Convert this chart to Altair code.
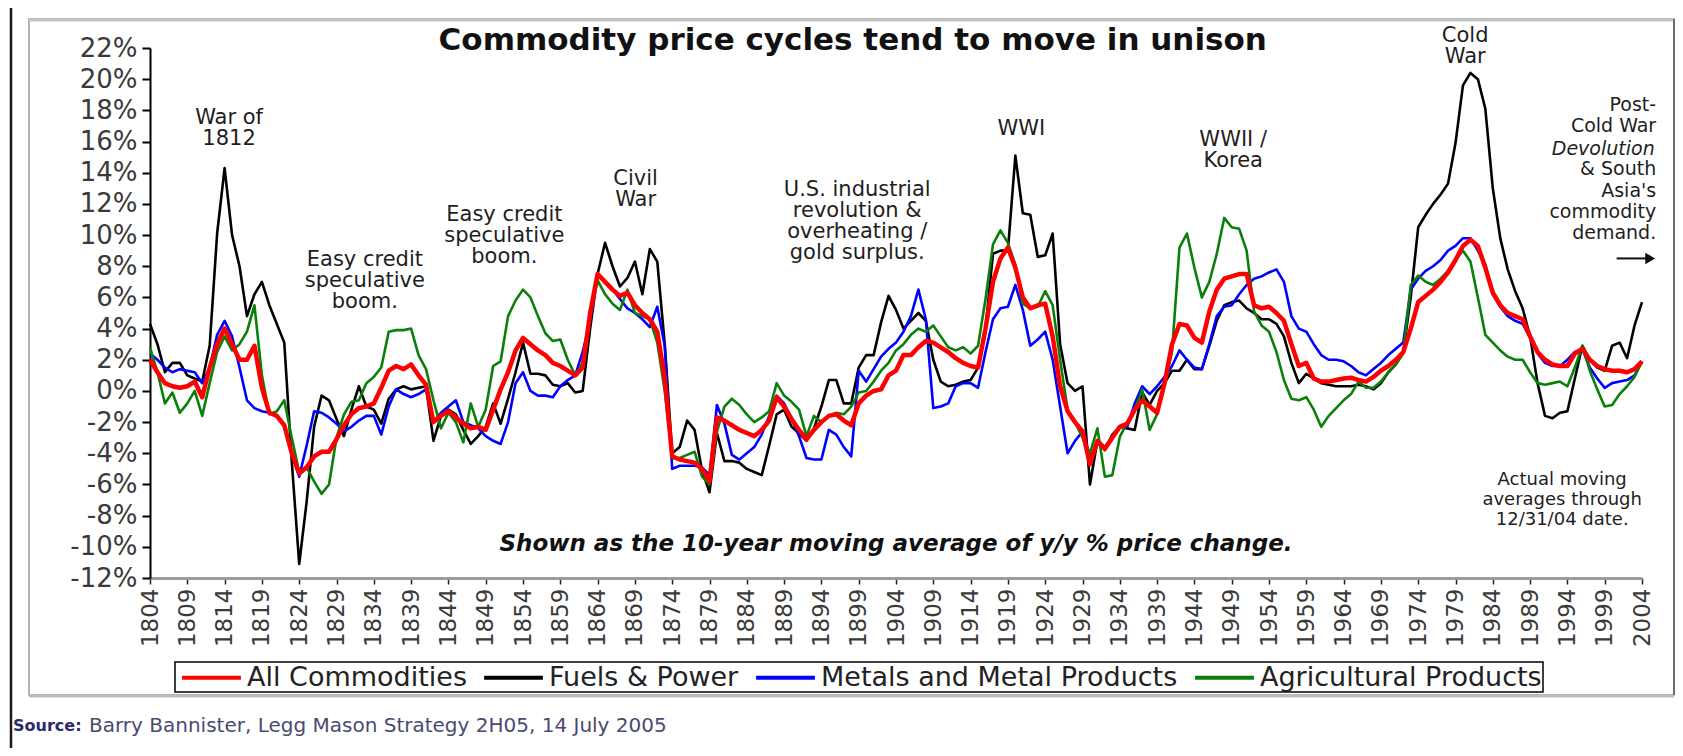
import altair as alt
import pandas as pd

YEARS = list(range(1804, 2005))

FUELS_POWER = [
    4.3, 3.0, 1.2, 1.8, 1.8, 1.0, 0.8, 0.6, 2.9, 10.1,
    14.3, 10.0, 8.0, 4.8, 6.2, 7.0, 5.5, 4.3, 3.1, -4.5,
    -11.1, -7.1, -2.3, -0.3, -0.6, -1.8, -2.9, -1.2, 0.3, -1.0,
    -1.2, -2.1, -0.5, 0.1, 0.3, 0.1, 0.2, 0.3, -3.2, -1.6,
    -1.2, -1.5, -2.5, -3.4, -2.9, -2.3, -0.8, -2.1, -0.5, 1.2,
    3.1, 1.1, 1.1, 1.0, 0.4, 0.3, 0.5, -0.1, 0.0, 4.0,
    7.5, 9.5, 8.0, 6.7, 7.25, 8.3, 6.2, 9.1, 8.3, 3.0,
    -4.0, -3.6, -1.9, -2.5, -5.1, -6.5, -2.7, -4.5, -4.5, -4.6,
    -5.0, -5.2, -5.4, -3.5, -1.5, -1.2, -2.3, -2.7, -3.2, -2.4,
    -1.0, 0.7, 0.7, -0.8, -0.8, 1.5, 2.3, 2.3, 4.4, 6.1,
    5.2, 4.0, 4.5, 5.0, 4.5, 2.0, 0.6, 0.3, 0.4, 0.6,
    0.7, 1.5, 4.0, 8.8, 9.0, 9.0, 15.1, 11.4, 11.3, 8.6,
    8.7, 10.1, 3.0, 0.5, 0.0, 0.3, -6.0, -3.2, -3.8, -2.8,
    -2.3, -2.4, -2.5, -0.1, -0.9, 0.0, 0.5, 1.3, 1.3, 2.0,
    1.4, 1.4, 2.9, 4.5, 5.5, 5.7, 5.8, 5.3, 5.0, 4.6,
    4.6, 4.3, 3.5, 1.8, 0.5, 1.1, 0.8, 0.5, 0.4, 0.3,
    0.3, 0.3, 0.4, 0.3, 0.1, 0.5, 1.2, 1.7, 2.5, 6.0,
    10.5, 11.3, 12.0, 12.6, 13.3, 15.9, 19.6, 20.4, 20.0, 18.1,
    13.0, 9.8, 7.8, 6.4, 5.3, 3.5, 0.5, -1.6, -1.75, -1.4,
    -1.3, 0.8, 2.9, 2.0, 1.5, 1.3, 2.9, 3.1, 2.1, 4.2,
    5.7,
]

ALL_COMMODITIES = [
    2.0, 1.2, 0.5, 0.3, 0.2, 0.3, 0.6, -0.4, 1.5, 3.0,
    4.0, 3.0, 2.0, 2.0, 2.9, 0.2, -1.4, -1.6, -2.2, -4.0,
    -5.3, -4.9, -4.2, -3.9, -3.9, -3.1, -2.2, -1.5, -1.1, -1.0,
    -0.8, 0.2, 1.3, 1.6, 1.4, 1.7, 1.0, 0.4, -2.0, -1.6,
    -1.3, -1.7, -2.1, -2.4, -2.3, -2.5, -1.2, 0.1, 1.2, 2.6,
    3.4, 3.0, 2.6, 2.3, 1.8, 1.6, 1.3, 1.0, 1.5, 5.0,
    7.5, 7.0, 6.5, 6.1, 6.3, 5.5, 5.0, 4.6, 3.8, 0.8,
    -4.2, -4.4, -4.5, -4.6, -5.0, -5.8, -1.7, -1.9, -2.2, -2.5,
    -2.7, -2.9, -2.5, -1.9, -0.4, -1.0, -1.8, -2.5, -3.1, -2.5,
    -2.0, -1.6, -1.5, -1.9, -2.2, -0.8, -0.3, 0.0, 0.1, 1.0,
    1.3, 2.3, 2.3, 2.8, 3.2, 3.1, 2.8, 2.5, 2.1, 1.8,
    1.6, 1.5, 4.0, 7.0, 8.5, 9.2, 7.9, 6.0, 5.3, 5.5,
    5.6, 3.5, 0.3, -1.3, -2.0, -2.6, -4.7, -3.2, -3.7, -3.0,
    -2.3, -2.1, -1.2, -0.6, -1.0, -1.4, 0.5, 3.0, 4.3, 4.2,
    3.4, 3.1, 5.1, 6.5, 7.2, 7.35, 7.5, 7.5, 5.5, 5.3,
    5.4, 5.0, 4.5, 3.0, 1.6, 1.8, 0.8, 0.6, 0.6, 0.7,
    0.8, 0.85, 0.7, 0.6, 0.9, 1.3, 1.6, 2.0, 2.5, 4.0,
    5.7, 6.1, 6.5, 7.0, 7.6, 8.4, 9.3, 9.7, 9.3, 7.9,
    6.3, 5.5, 5.0, 4.8, 4.6, 3.5, 2.5, 2.0, 1.7, 1.6,
    1.6, 2.4, 2.7, 2.0, 1.6, 1.4, 1.3, 1.3, 1.2, 1.4,
    1.9,
]

METALS = [
    2.4, 2.0, 1.5, 1.2, 1.4, 1.3, 1.2, 0.5, 1.5, 3.6,
    4.5, 3.5, 1.5, -0.6, -1.1, -1.3, -1.4, -1.6, -2.2, -4.0,
    -5.5, -3.5, -1.3, -1.4, -1.7, -2.1, -2.6, -2.3, -1.9, -1.6,
    -1.6, -2.8, -1.0, 0.1, -0.2, -0.4, -0.2, 0.1, -2.0, -1.4,
    -1.0, -0.6, -2.0, -2.2, -2.4, -2.9, -3.2, -3.4, -2.0, 0.5,
    1.2, 0.0, -0.3, -0.3, -0.4, 0.3, 0.7, 1.0, 2.5, 4.5,
    7.5, 7.0, 6.5, 5.9, 5.3, 5.0, 4.6, 4.1, 5.4, 2.9,
    -5.0, -4.8, -4.8, -4.8, -4.9, -5.4, -0.9, -2.1, -4.1, -4.4,
    -4.0, -3.6, -2.8, -1.6, -0.3, -0.8, -1.8, -2.9, -4.3, -4.4,
    -4.4, -2.5, -2.8, -3.6, -4.2, 1.3, 0.6, 1.4, 2.2, 2.7,
    3.1, 3.8, 4.8, 6.5, 4.6, -1.1, -1.0, -0.8, 0.3, 0.5,
    0.5, 0.2, 2.5, 4.6, 5.3, 5.4, 6.8, 5.2, 2.9, 3.3,
    3.8, 2.0, -1.0, -4.0, -3.2, -2.6, -4.2, -3.4, -3.6, -3.0,
    -2.3, -2.3, -0.8, 0.3, -0.2, 0.3, 0.9, 1.6, 2.6, 2.0,
    1.5, 1.4, 3.0, 4.8, 5.4, 5.5, 6.2, 6.8, 7.2, 7.35,
    7.6, 7.8, 7.0, 4.8, 4.0, 3.8, 3.0, 2.3, 2.0, 2.0,
    1.9, 1.6, 1.2, 1.0, 1.4, 1.8, 2.3, 2.7, 3.1, 6.5,
    7.2, 7.7, 8.0, 8.4, 9.0, 9.3, 9.8, 9.8, 9.0, 8.1,
    6.2, 5.4, 4.8, 4.5, 4.3, 3.4, 2.4, 1.8, 1.6, 1.6,
    2.0, 2.5, 2.7, 1.5, 0.8, 0.2, 0.5, 0.6, 0.7, 1.0,
    1.9,
]

AGRICULTURAL = [
    2.8, 1.2, -0.8, -0.1, -1.4, -0.8, 0.0, -1.6, 0.5, 2.5,
    3.5, 2.6, 3.0, 3.8, 5.5, 1.0, -1.5, -1.3, -0.6, -3.0,
    -5.2, -4.9, -5.8, -6.6, -6.0, -3.0, -1.5, -0.7, -0.6, 0.5,
    0.9, 1.5, 3.8, 3.9, 3.9, 4.0, 2.3, 1.4, -0.6, -2.4,
    -1.4, -2.0, -3.3, -0.8, -2.3, -1.2, 1.6, 1.9, 4.8, 5.8,
    6.5, 6.0, 4.8, 3.7, 3.2, 3.3, 2.0, 1.0, 1.8, 5.0,
    7.1, 6.2, 5.6, 5.2, 6.5, 5.0, 4.8, 4.6, 3.1, 0.0,
    -4.3, -4.3, -4.1, -3.9, -5.5, -6.0, -2.6, -1.0, -0.5, -0.9,
    -1.5, -2.0, -1.7, -1.3, 0.5, -0.3, -0.7, -1.2, -2.9, -1.6,
    -2.0, -1.6, -1.4, -1.5, -1.0, -0.1, 0.0, 0.6, 1.3, 1.8,
    2.6, 3.0, 3.6, 4.0, 3.8, 4.2, 3.5, 2.8, 2.6, 2.8,
    2.4, 2.9, 5.9, 9.4, 10.3, 9.5, 8.1, 5.6, 5.3, 5.4,
    6.4, 5.5, 2.0, -1.2, -2.0, -3.0, -4.0, -2.4, -5.5, -5.4,
    -2.95, -2.0, -1.3, 0.1, -2.5, -1.5, 0.5, 2.5, 9.2, 10.1,
    7.9, 6.0, 7.0, 8.8, 11.1, 10.5, 10.4, 9.0, 5.1, 4.2,
    3.8, 2.5, 0.7, -0.5, -0.6, -0.4, -1.2, -2.3, -1.6, -1.1,
    -0.6, -0.2, 0.6, 0.2, 0.2, 0.6, 1.2, 1.7, 2.4, 6.8,
    7.4, 7.0, 6.8, 7.2, 7.7, 8.4, 9.0, 8.3, 6.0, 3.6,
    3.1, 2.6, 2.2, 2.0, 2.0, 1.2, 0.5, 0.4, 0.5, 0.6,
    0.3, 1.5, 2.9, 1.3, 0.1, -1.0, -0.9, -0.2, 0.3, 0.9,
    1.9,
]

SERIES_NAMES = ["All Commodities", "Fuels & Power",
                "Metals and Metal Products", "Agricultural Products"]
SERIES_COLORS = ["#ff0000", "#000000", "#0000ff", "#0a800a"]

X_TICKS = list(range(1804, 2005, 5))
Y_TICKS = list(range(-12, 23, 2))

TITLE = "Commodity price cycles tend to move in unison"
NOTE = "Shown as the 10-year moving average of y/y % price change."
SOURCE_LABEL = "Source:"
SOURCE_TEXT = "Barry Bannister, Legg Mason Strategy 2H05, 14 July 2005"

ANN_TEXT = ["War of\n1812", "Easy credit\nspeculative\nboom.",
            "Easy credit\nspeculative\nboom.", "Civil\nWar",
            "U.S. industrial\nrevolution &\noverheating /\ngold surplus.",
            "WWI", "WWII /\nKorea", "Cold\nWar"]
ANN_YEAR = [1814.6, 1832.8, 1851.5, 1869.1, 1898.8, 1920.8, 1949.2, 1980.3]
ANN_PCT = [18.2, 9.1, 12.0, 14.3, 13.6, 17.5, 16.8, 23.5]

RIGHT_TEXT = ["Post-\nCold War", "& South\nAsia's\ncommodity\ndemand."]
RIGHT_YEAR = [2005.9, 2005.9]
RIGHT_PCT = [18.95, 14.80]
ITALIC_TEXT = ["Devolution"]
ITALIC_YEAR = [2005.7]
ITALIC_PCT = [16.12]

SMALL_TEXT = ["Actual moving\naverages through\n12/31/04 date."]
SMALL_YEAR = [1993.3]
SMALL_PCT = [-5.15]

ARROW_START = [2000.6]
ARROW_END = [2004.6]
ARROW_HEAD = [2005.1]
ARROW_PCT = [8.5]

for s in (FUELS_POWER, ALL_COMMODITIES, METALS, AGRICULTURAL):
    assert len(s) == len(YEARS), len(s)

df = pd.DataFrame({
    "year": YEARS * 4,
    "pct": ALL_COMMODITIES + FUELS_POWER + METALS + AGRICULTURAL,
    "series": sum([[n] * len(YEARS) for n in SERIES_NAMES], []),
})

FONT = "DejaVu Sans"
x_scale = alt.Scale(domain=[1804, 2004], nice=False, zero=False)
y_scale = alt.Scale(domain=[-12, 22], nice=False, zero=False)
x_axis = alt.Axis(values=X_TICKS, format="d", labelAngle=-90, labelFont=FONT,
                  labelFontSize=23, labelColor="#3a3a3a", labelFlush=False,
                  labelOverlap=False, labelPadding=4, tickSize=6, tickWidth=1.5,
                  tickColor="#222222", domainColor="#9c9c9c", domainWidth=3,
                  grid=False, title=None)
y_axis = alt.Axis(values=Y_TICKS, labelExpr="datum.value + '%'", labelFont=FONT,
                  labelFontSize=26, labelColor="#3a3a3a", labelPadding=5,
                  tickSize=8, tickWidth=2, tickColor="#000000",
                  domainColor="#000000", domainWidth=2, grid=False, title=None)


def X(field):
    return alt.X(field, scale=x_scale, axis=x_axis)


def Y(field):
    return alt.Y(field, scale=y_scale, axis=y_axis)


color_enc = alt.Color(
    "series:N",
    scale=alt.Scale(domain=SERIES_NAMES, range=SERIES_COLORS),
    legend=alt.Legend(title=None, orient="none", legendX=25, legendY=614,
                      direction="horizontal", columns=4,
                      symbolType="M-2.4,0L2.4,0", symbolSize=600,
                      symbolStrokeWidth=4, symbolOffset=21, labelOffset=21,
                      labelFont=FONT, labelFontSize=27, labelColor="#222222",
                      labelLimit=600, strokeColor="#000000", padding=1,
                      columnPadding=9),
)

one = alt.Data(values=[{}])

frame = alt.Chart(one).mark_rect(fillOpacity=0, stroke="#b3b3b3", strokeWidth=2).encode(
    x=alt.value(-121), x2=alt.value(1524), y=alt.value(-29), y2=alt.value(647))
frame_top = alt.Chart(one).mark_rule(color="#c4c4c4", strokeWidth=3).encode(
    x=alt.value(-121), x2=alt.value(1524), y=alt.value(-28))
frame_bottom = alt.Chart(one).mark_rule(color="#bdbdbd", strokeWidth=3).encode(
    x=alt.value(-121), x2=alt.value(1524), y=alt.value(648))
frame_right = alt.Chart(one).mark_rule(color="#555555", strokeWidth=1.5).encode(
    x=alt.value(1524), y=alt.value(-29), y2=alt.value(647))
left_bar = alt.Chart(one).mark_rule(color="#1a1a1a", strokeWidth=2.5).encode(
    x=alt.value(-139), y=alt.value(-48), y2=alt.value(720))

line_layers = []
for name, w in [("Fuels & Power", 2.6), ("Metals and Metal Products", 2.6),
                ("Agricultural Products", 2.6), ("All Commodities", 4.5)]:
    line_layers.append(
        alt.Chart(df).transform_filter(alt.datum.series == name)
        .mark_line(strokeWidth=w, strokeJoin="round")
        .encode(x=X("year:Q"), y=Y("pct:Q"), color=color_enc)
    )

ann_df = pd.DataFrame({"label": ANN_TEXT, "year": ANN_YEAR, "pct": ANN_PCT})
ann = alt.Chart(ann_df).mark_text(font=FONT, fontSize=21, color="#1e1e1e",
                                  align="center", baseline="top", lineBreak="\n",
                                  lineHeight=21).encode(
    x=X("year:Q"), y=Y("pct:Q"), text="label:N")

right_df = pd.DataFrame({"label": RIGHT_TEXT, "year": RIGHT_YEAR, "pct": RIGHT_PCT})
right = alt.Chart(right_df).mark_text(font=FONT, fontSize=19, color="#1e1e1e",
                                      align="right", baseline="top", lineBreak="\n",
                                      lineHeight=21.3).encode(
    x=X("year:Q"), y=Y("pct:Q"), text="label:N")

ital_df = pd.DataFrame({"label": ITALIC_TEXT, "year": ITALIC_YEAR, "pct": ITALIC_PCT})
ital = alt.Chart(ital_df).mark_text(font=FONT, fontSize=19, fontStyle="italic",
                                    color="#1e1e1e", align="right",
                                    baseline="top").encode(
    x=X("year:Q"), y=Y("pct:Q"), text="label:N")

small_df = pd.DataFrame({"label": SMALL_TEXT, "year": SMALL_YEAR, "pct": SMALL_PCT})
small = alt.Chart(small_df).mark_text(font=FONT, fontSize=18, color="#1e1e1e",
                                      align="center", baseline="top", lineBreak="\n",
                                      lineHeight=20).encode(
    x=X("year:Q"), y=Y("pct:Q"), text="label:N")

arrow_df = pd.DataFrame({"x0": ARROW_START, "x1": ARROW_END, "xh": ARROW_HEAD,
                         "pct": ARROW_PCT})
arrow_line = alt.Chart(arrow_df).mark_rule(color="#111111", strokeWidth=2).encode(
    x=X("x0:Q"), x2="x1:Q", y=Y("pct:Q"))
arrow_head = alt.Chart(arrow_df).mark_point(shape="triangle-right", filled=True,
                                            size=130, color="#111111", opacity=1).encode(
    x=X("xh:Q"), y=Y("pct:Q"))

title_df = pd.DataFrame({"label": [TITLE], "year": [1898.2], "pct": [22.45]})
title = alt.Chart(title_df).mark_text(font=FONT, fontSize=31, fontWeight="bold",
                                      color="#111111", align="center",
                                      baseline="middle").encode(
    x=X("year:Q"), y=Y("pct:Q"), text="label:N")

note_df = pd.DataFrame({"label": [NOTE], "year": [1904.0], "pct": [-9.82]})
note = alt.Chart(note_df).mark_text(font=FONT, fontSize=23, fontWeight="bold",
                                    fontStyle="italic", color="#111111",
                                    align="center", baseline="middle").encode(
    x=X("year:Q"), y=Y("pct:Q"), text="label:N")

src1 = alt.Chart(alt.Data(values=[{"t": SOURCE_LABEL}])).mark_text(
    font=FONT, fontSize=16, fontWeight="bold", color="#2a2a6e", align="left",
    baseline="middle").encode(x=alt.value(-137), y=alt.value(678), text="t:N")
src2 = alt.Chart(alt.Data(values=[{"t": SOURCE_TEXT}])).mark_text(
    font=FONT, fontSize=20, color="#4a4a72", align="left",
    baseline="middle").encode(x=alt.value(-61), y=alt.value(678), text="t:N")

chart = alt.layer(
    frame, frame_top, frame_bottom, frame_right, left_bar,
    *line_layers, ann, right, ital, small, arrow_line, arrow_head, title, note,
    src1, src2,
).properties(
    width=1492, height=530,
    autosize=alt.AutoSizeParams(type="none"),
    padding={"left": 142, "top": 40, "right": 33, "bottom": 170},
    background="white",
).configure_view(strokeWidth=0).configure_legend(strokeWidth=1.5)

chart.save("out.html", embed_options={"renderer": "svg", "actions": False})
